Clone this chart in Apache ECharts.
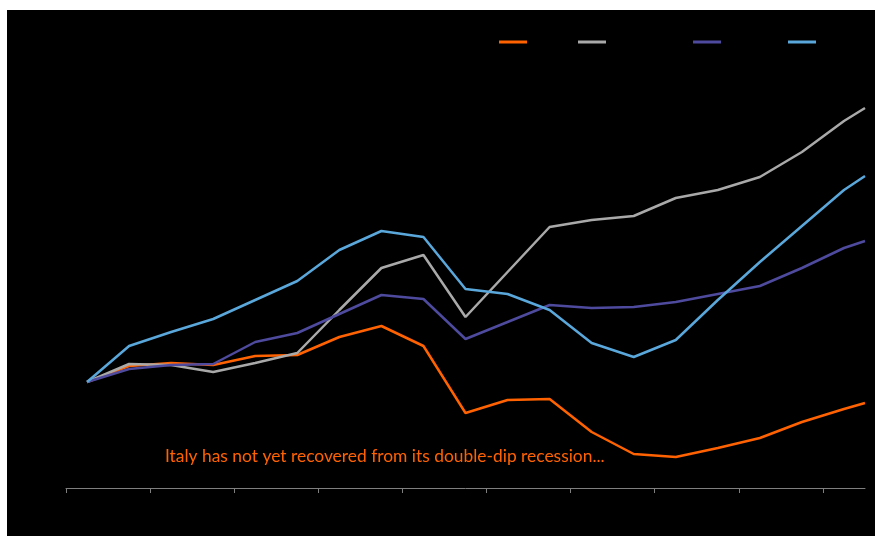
<!DOCTYPE html>
<html>
<head>
<meta charset="utf-8">
<script src="https://cdn.jsdelivr.net/npm/echarts@6/dist/echarts.min.js"></script>
<style>
html,body{margin:0;padding:0;background:#fff;}
#chart{width:875px;height:536px;}
</style>
</head>
<body>
<div id="chart"></div>
<script>
// x positions (periods) of the data points
var periods = [0.5, 1.5, 2.5, 3.5, 4.5, 5.5, 6.5, 7.5, 8.5, 9.5, 10.5, 11.5, 12.5, 13.5, 14.5, 15.5, 16.5, 17.5, 18.5, 19];
var tickValues = [0, 2, 4, 6, 8, 10, 12, 14, 16, 18];
var seriesNames = ['Italy', 'Germany', 'France', 'Spain'];
var italy   = [100, 103.2, 103.8, 103.4, 105.2, 105.4, 109, 111.2, 107.2, 93.8, 96.4, 96.6, 90, 85.6, 85, 86.8, 88.8, 92, 94.6, 95.8];
var germany = [100, 103.6, 103.4, 102, 103.8, 105.8, 114.4, 122.8, 125.4, 113, 122, 131, 132.4, 133.2, 136.8, 138.4, 141, 146, 152.2, 154.8];
var france  = [100, 102.6, 103.4, 103.6, 108, 109.8, 113.6, 117.4, 116.6, 108.6, 112, 115.4, 114.8, 115, 116, 117.6, 119.2, 122.8, 126.8, 128.2];
var spain   = [100, 107.2, 110, 112.6, 116.4, 120.2, 126.4, 130.2, 129, 118.6, 117.6, 114.4, 107.8, 105, 108.4, 116.4, 124, 131.2, 138.4, 141.2];
var annotation = 'Italy has not yet recovered from its double-dip recession...';

var colors = ['#FF6200', '#A9A9A9', '#4E4A9E', '#5AA8DB'];
var legendLefts = [494, 573, 688, 783];
var allValues = [italy, germany, france, spain];

function pairs(vals) {
  return vals.map(function (v, i) { return [periods[i], v]; });
}

var chart = echarts.init(document.getElementById('chart'), null, {renderer: 'canvas'});
chart.setOption({
  animation: false,
  backgroundColor: '#ffffff',
  graphic: [
    {type: 'rect', silent: true, z: -100, shape: {x: 7, y: 10, width: 868, height: 526}, style: {fill: '#000000'}},
    {type: 'text', silent: true, z: 10, x: 165, y: 456,
     style: {text: annotation, fill: '#FF6200', font: '17.4px Lato', textVerticalAlign: 'middle'}}
  ],
  legend: seriesNames.map(function (n, i) {
    return {
      data: [n], left: legendLefts[i], top: 31, icon: 'rect', itemWidth: 28, itemHeight: 3,
      textStyle: {color: '#000000', fontSize: 12, fontFamily: 'Lato'}, selectedMode: false
    };
  }),
  grid: {left: 66, right: 10, top: 62, bottom: 48},
  xAxis: {
    type: 'value', min: 0, max: 19, interval: 2,
    axisLine: {show: true, lineStyle: {color: '#7f7f7f', width: 1}},
    axisTick: {show: true, length: 5, customValues: tickValues, lineStyle: {color: '#7f7f7f'}},
    axisLabel: {show: false}, splitLine: {show: false}
  },
  yAxis: {type: 'value', min: 78.8, max: 164, show: false, splitLine: {show: false}},
  series: seriesNames.map(function (n, i) {
    return {
      name: n, type: 'line', symbol: 'none', data: pairs(allValues[i]),
      itemStyle: {color: colors[i]},
      lineStyle: {color: colors[i], width: 2.5}
    };
  })
});
</script>
</body>
</html>
